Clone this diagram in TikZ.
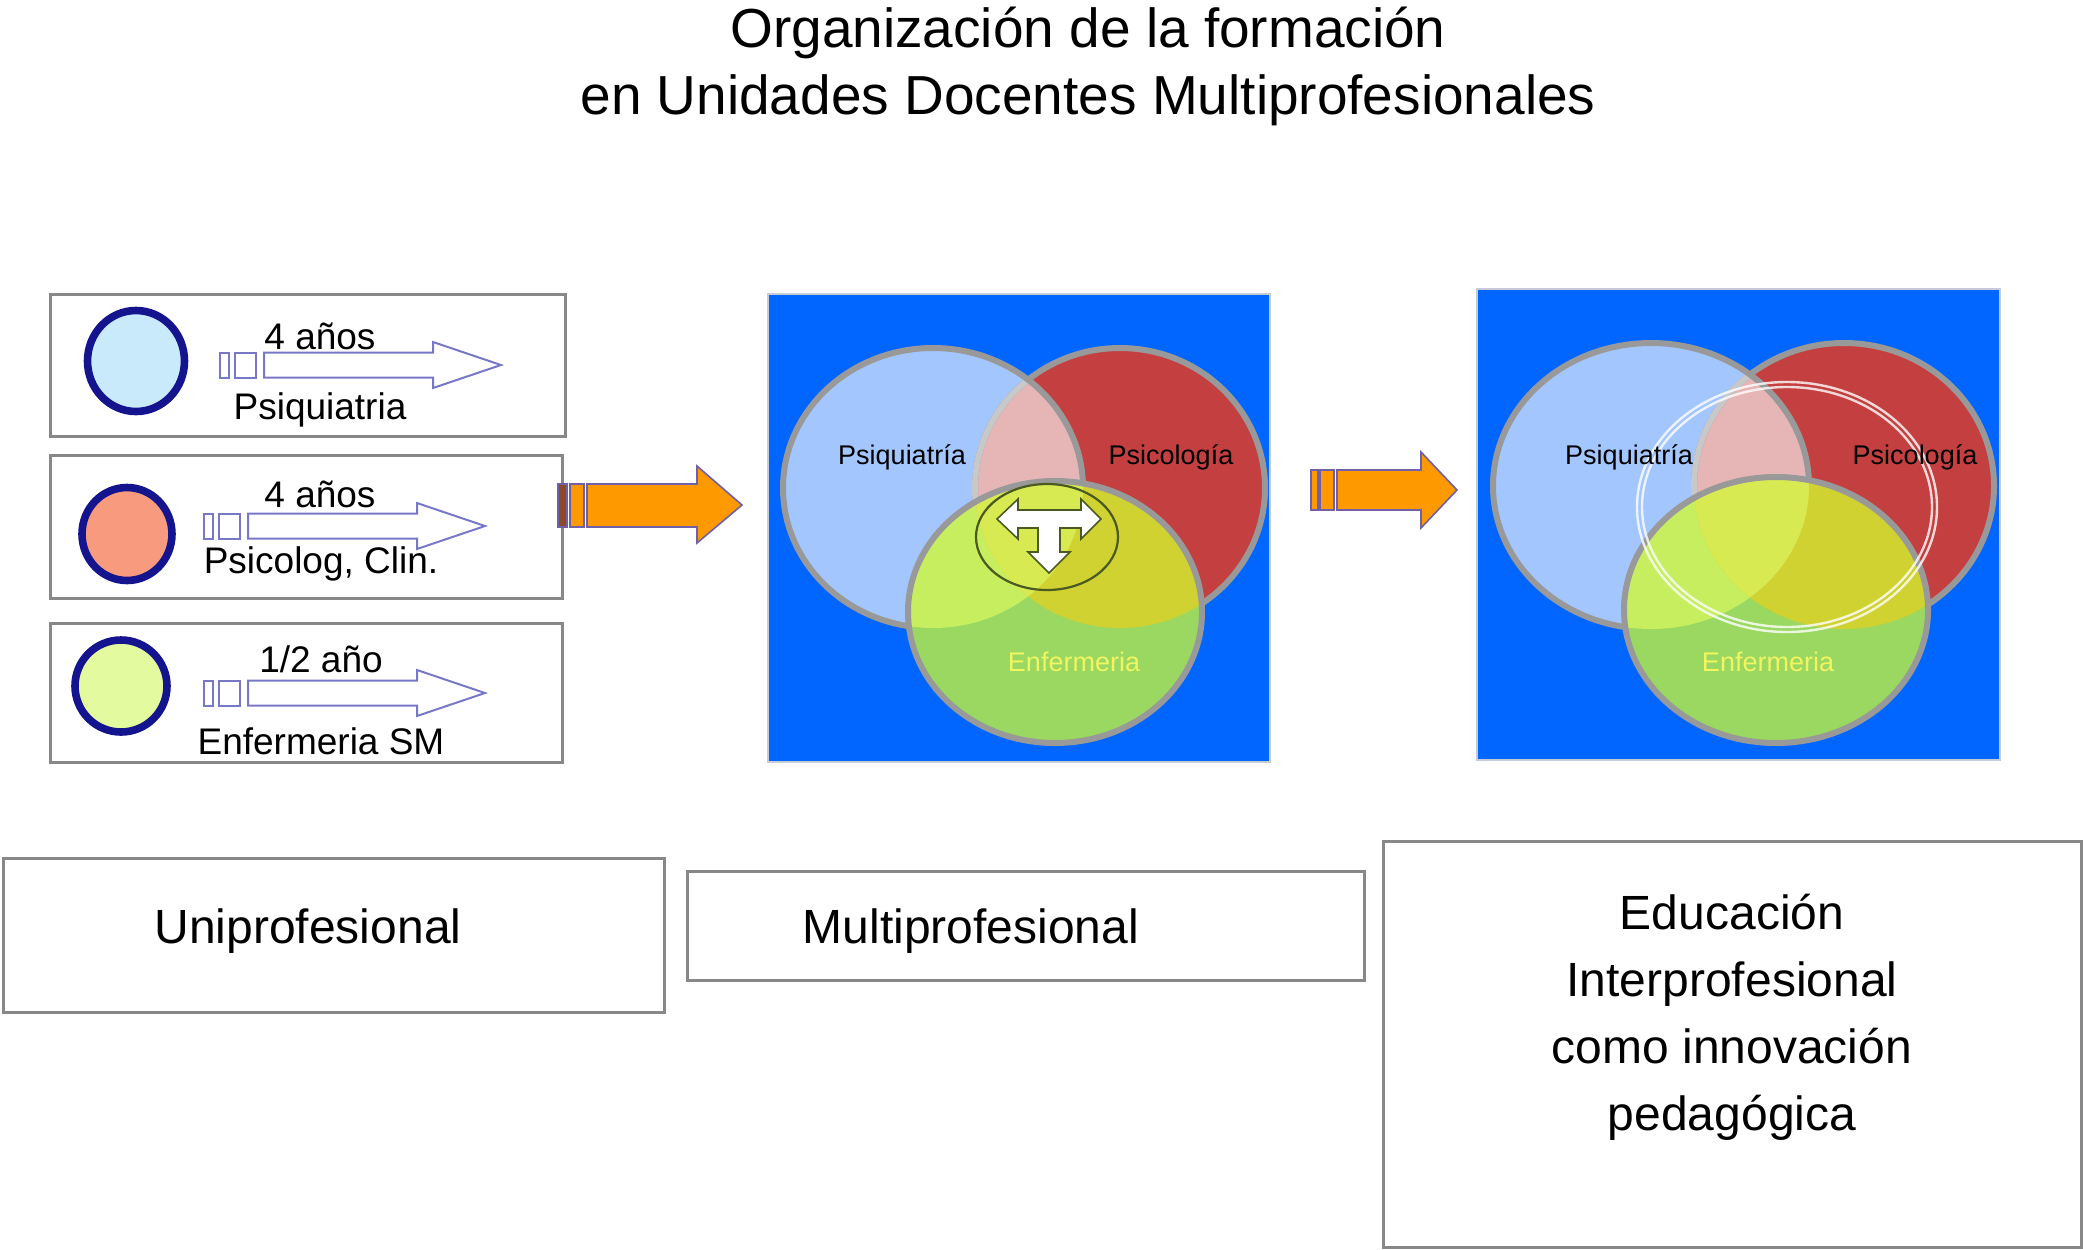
\documentclass[tikz,border=0pt]{standalone}
\usepackage{fontspec}
\setmainfont{Liberation Sans}
\usetikzlibrary{shapes.geometric}
\definecolor{navyline}{HTML}{14148E}
\definecolor{cpsi}{HTML}{C8EAFB}
\definecolor{cpsico}{HTML}{F79A7E}
\definecolor{cenf}{HTML}{E4FA9E}
\definecolor{lavline}{HTML}{7878C8}
\definecolor{orangef}{HTML}{FF9900}
\definecolor{brownf}{HTML}{8B4A2A}
\definecolor{orangeline}{HTML}{7060A8}
\definecolor{panelblue}{HTML}{0066FF}
\definecolor{panelline}{HTML}{C4CCDC}
\definecolor{psiblue}{HTML}{A3C6FF}
\definecolor{psired}{HTML}{C44040}
\definecolor{pinkx}{HTML}{E6B5B5}
\definecolor{greenlow}{HTML}{9AD862}
\definecolor{greenblue}{HTML}{C6EE5E}
\definecolor{greenred}{HTML}{D0D232}
\definecolor{greentri}{HTML}{D8EA52}
\definecolor{venngray}{HTML}{999999}
\definecolor{vennlight}{HTML}{C8C8C8}
\definecolor{enfyellow}{HTML}{F0F560}
\definecolor{boxgray}{HTML}{888888}
\definecolor{ringline}{HTML}{4A5A20}
\tikzset{
  graybox/.style={draw=boxgray, line width=1.5pt, inner sep=0pt},
  dotnode/.style={ellipse, draw=navyline, line width=3.8pt, inner sep=0pt},
  arrowline/.style={draw=lavline, line width=1pt, fill=white},
  orangepart/.style={draw=orangeline, line width=0.8pt, fill=orangef},
  smalltxt/.style={font=\fontsize{18.5}{22}\selectfont, inner sep=0pt},
  venntxt/.style={font=\fontsize{13.5}{16}\selectfont, inner sep=0pt},
  bigtxt/.style={font=\fontsize{24}{33.5}\selectfont, align=center, inner sep=0pt},
  vennline/.style={draw=venngray, line width=3pt},
  panel/.style={fill=panelblue, draw=panelline, line width=1pt, inner sep=0pt},
  hollowarr/.pic={
    \draw[arrowline] (0,-12.5) rectangle (9,12.5);
    \draw[arrowline] (15,-12.5) rectangle (36,12.5);
    \draw[arrowline] (44,-12.5) -- (213,-12.5) -- (213,-23) -- (281,0) -- (213,23) -- (213,12.5) -- (44,12.5) -- cycle;
  }
}
\begin{document}
\begin{tikzpicture}[x=0.5pt,y=-0.5pt]
\useasboundingbox (0,0) rectangle (2083,1249);

% title
\node[font=\fontsize{27.5}{33.5}\selectfont, align=center, inner sep=0pt] (title) at (1088,66)
  {Organización de la formación\\en Unidades Docentes Multiprofesionales};

% ---------- left boxes ----------
\node[graybox, minimum width=257.5pt, minimum height=71pt] (b1) at (307.5,365) {};
\node[graybox, minimum width=256pt, minimum height=71.5pt] (b2) at (306,526.5) {};
\node[graybox, minimum width=256pt, minimum height=69.5pt] (b3) at (306,692.5) {};

\node[dotnode, fill=cpsi, minimum width=48.5pt, minimum height=50.5pt] (c1) at (136,361) {};
\node[dotnode, fill=cpsico, minimum width=45pt, minimum height=46.5pt] (c2) at (127,534) {};
\node[dotnode, fill=cenf, minimum width=46pt, minimum height=46pt] (c3) at (121,686) {};

\pic at (220,365) {hollowarr};
\pic at (204,526) {hollowarr};
\pic at (204,693) {hollowarr};

\node[smalltxt] (t1a) at (320,336) {4 años};
\node[smalltxt] (t1b) at (320,410) {Psiquiatria};
\node[smalltxt] (t2a) at (320,494) {4 años};
\node[smalltxt] (t2b) at (321,564) {Psicolog, Clin.};
\node[smalltxt] (t3a) at (321,659) {1/2 año};
\node[smalltxt] (t3b) at (321,741) {Enfermeria SM};

% ---------- orange arrow 1 ----------
\draw[draw=orangeline, line width=0.8pt, fill=brownf] (558,484) rectangle (567,527);
\draw[orangepart] (570,484) rectangle (584,527);
\draw[orangepart] (587,484) -- (697,484) -- (697,466) -- (742,505) -- (697,543) -- (697,527) -- (587,527) -- cycle;

% ---------- middle panel ----------
\node[panel, minimum width=251pt, minimum height=234pt] (pmid) at (1019,528) {};
\def\Bm{(933,488) ellipse [x radius=150, y radius=140]}
\def\Rm{(1120,488) ellipse [x radius=145, y radius=140]}
\def\Gm{(1055,612) ellipse [x radius=147, y radius=131]}
\fill[psiblue] \Bm;
\fill[psired] \Rm;
\begin{scope}\clip \Bm; \fill[pinkx] \Rm; \end{scope}
\draw[vennline] \Rm;
\begin{scope}\clip \Bm; \draw[draw=vennlight, line width=3pt] \Rm; \end{scope}
\draw[vennline] \Bm;
\fill[greenlow] \Gm;
\begin{scope}
  \clip \Gm;
  \fill[greenblue] \Bm;
  \fill[greenred] \Rm;
  \begin{scope}\clip \Bm; \fill[greentri] \Rm; \end{scope}
\end{scope}
\draw[vennline] \Gm;
% ring with T arrow
\draw[draw=ringline, line width=1.1pt] (1047,537) ellipse [x radius=71, y radius=53];
\draw[draw=ringline, line width=0.8pt, fill=white, line join=miter]
  (997,519) -- (1018,499) -- (1018,510) -- (1081,510) -- (1081,499) -- (1101,519)
  -- (1081,539) -- (1081,528) -- (1060,528) -- (1060,552) -- (1070,552) -- (1049,573)
  -- (1028,552) -- (1038,552) -- (1038,528) -- (1018,528) -- (1018,539) -- cycle;
\node[venntxt] (m1) at (902,457) {Psiquiatría};
\node[venntxt] (m2) at (1171,457) {Psicología};
\node[venntxt, text=enfyellow] (m3) at (1074,662) {Enfermeria};

% ---------- orange arrow 2 ----------
\draw[orangepart] (1311,470) rectangle (1318,510);
\draw[orangepart] (1320,470) rectangle (1334,510);
\draw[orangepart] (1337,470) -- (1421,470) -- (1421,452) -- (1457,490) -- (1421,528) -- (1421,510) -- (1337,510) -- cycle;

% ---------- right panel ----------
\node[panel, minimum width=261.5pt, minimum height=235.5pt] (pright) at (1738.5,524.5) {};
\def\Br{(1651,486) ellipse [x radius=158, y radius=143]}
\def\Rr{(1844,486) ellipse [x radius=150, y radius=143]}
\def\Gr{(1776,610) ellipse [x radius=152, y radius=133]}
\fill[psiblue] \Br;
\fill[psired] \Rr;
\begin{scope}\clip \Br; \fill[pinkx] \Rr; \end{scope}
\draw[vennline] \Rr;
\begin{scope}\clip \Br; \draw[draw=vennlight, line width=3pt] \Rr; \end{scope}
\draw[vennline] \Br;
\fill[greenlow] \Gr;
\begin{scope}
  \clip \Gr;
  \fill[greenblue] \Br;
  \fill[greenred] \Rr;
  \begin{scope}\clip \Br; \fill[greentri] \Rr; \end{scope}
\end{scope}
\draw[vennline] \Gr;
\draw[white, line width=1.2pt, opacity=0.8] (1787,507) ellipse [x radius=150, y radius=125];
\draw[white, line width=1.2pt, opacity=0.8] (1787,507) ellipse [x radius=145, y radius=120];
\node[venntxt] (r1) at (1629,457) {Psiquiatría};
\node[venntxt] (r2) at (1915,457) {Psicología};
\node[venntxt, text=enfyellow] (r3) at (1768,662) {Enfermeria};

% ---------- bottom boxes ----------
\node[graybox, minimum width=330.5pt, minimum height=77pt] (u) at (333.5,935) {};
\node[bigtxt] (ut) at (308,931) {Uniprofesional};
\node[graybox, minimum width=338.5pt, minimum height=54.5pt] (m) at (1025.5,925.5) {};
\node[bigtxt] (mt) at (971,931) {Multiprofesional};
\node[graybox, minimum width=349pt, minimum height=203pt] (e) at (1732.5,1044) {};
\node[bigtxt] (et) at (1732,1017) {Educación\\Interprofesional\\como innovación\\pedagógica};
\end{tikzpicture}
\end{document}
